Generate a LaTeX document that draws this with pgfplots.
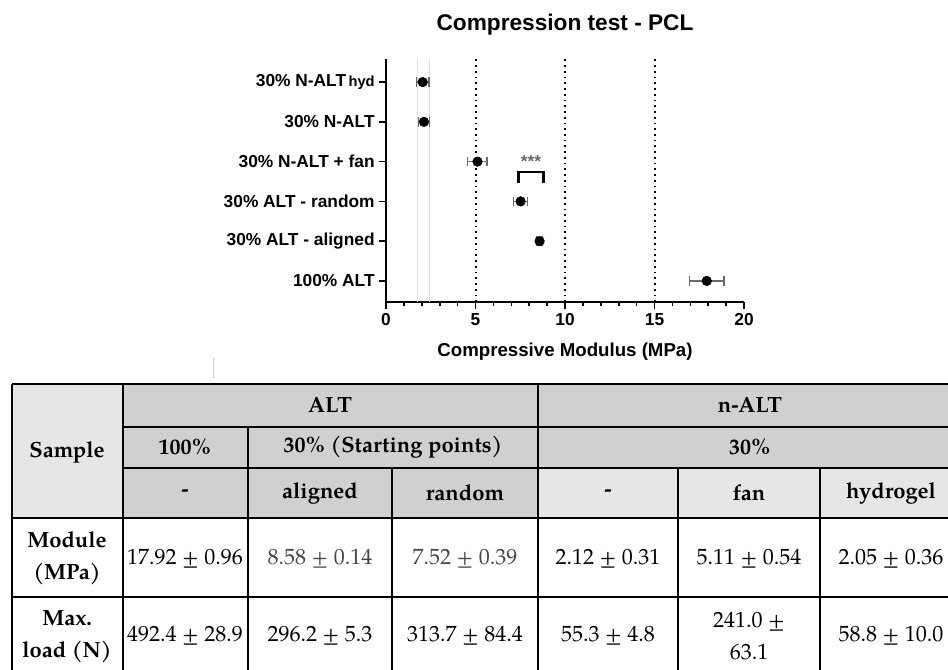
\documentclass[border=0pt]{standalone}
\usepackage{pgfplots}
\pgfplotsset{compat=1.18}
\usepackage{pgfplotstable}
\usepackage{fontspec}
\setmainfont{Liberation Sans}
\newfontfamily\pal{texgyrepagella}[Extension=.otf,UprightFont=*-regular,BoldFont=*-bold]
\definecolor{hdr}{RGB}{208,208,208}
\definecolor{hdrl}{RGB}{230,230,230}
\definecolor{ebar}{RGB}{105,105,105}
\definecolor{valg}{RGB}{70,70,70}

\pgfplotstableread{
y x e
6 2.05 0.36
5 2.12 0.31
4 5.11 0.54
3 7.52 0.39
2 8.58 0.14
1 17.92 0.96
}\modtab

\begin{document}
\begin{tikzpicture}[x=0.75pt,y=0.75pt]
\useasboundingbox (0,0) rectangle (948,669);
\clip (0,0) rectangle (948,669);
\fill[white] (0,0) rectangle (948,669);
\coordinate (axorig) at (386,{669-302});
% title
\node[font=\bfseries\fontsize{17}{20}\selectfont] at (565,{669-25}) {Compression test - PCL};
\begin{axis}[
  at={(axorig)}, anchor=south west,
  scale only axis, width=268.5pt, height=182.25pt,
  xmin=0, xmax=20, ymin=0.47, ymax=6.58,
  axis lines=left,
  axis line style={line width=1.8pt, -},
  xtick={0,5,10,15,20},
  minor xtick={1,2,3,4,6,7,8,9,11,12,13,14,16,17,18,19},
  ytick={1,2,3,4,5,6},
  yticklabels={100\% ALT, 30\% ALT - aligned, 30\% ALT - random, 30\% N-ALT + fan, 30\% N-ALT, 30\% N-ALT{\fontsize{11}{13}\selectfont\,hyd}},
  tick align=outside,
  major tick length=5pt, minor tick length=3pt,
  tick style={black, line width=1.2pt},
  tick label style={font=\bfseries\fontsize{13}{15}\selectfont},
  /pgf/number format/assume math mode=true,
  clip=false,
]
\draw[gray!25, line width=0.6pt] (axis cs:1.73,0.47) -- (axis cs:1.73,6.58);
\draw[gray!25, line width=0.6pt] (axis cs:2.40,0.47) -- (axis cs:2.40,6.58);
\draw[line width=1.5pt, dash pattern=on 1.3pt off 3pt] (axis cs:5,0.47) -- (axis cs:5,6.58);
\draw[line width=1.5pt, dash pattern=on 1.3pt off 3pt] (axis cs:10,0.47) -- (axis cs:10,6.58);
\draw[line width=1.5pt, dash pattern=on 1.3pt off 3pt] (axis cs:15,0.47) -- (axis cs:15,6.58);
\addplot[only marks, mark=*, mark size=3.6pt, black,
  error bars/.cd, x dir=both, x explicit,
  error mark=|,
  error bar style={color=ebar, line width=1pt},
  error mark options={color=ebar, line width=1pt, mark size=3.6pt}]
  table[x=x, y=y, x error=e] {\modtab};
\draw[line width=2pt] (axis cs:7.4,3.46) -- (axis cs:7.4,3.74) -- (axis cs:8.8,3.74) -- (axis cs:8.8,3.46);
\node[anchor=base, font=\bfseries\fontsize{13}{14}\selectfont, text=ebar, inner sep=0pt] at (axis cs:8.1,3.84) {***};
\end{axis}
\node[font=\bfseries\fontsize{14}{16}\selectfont] at (565,{669-352}) {Compressive Modulus (MPa)};
\draw[gray!40, line width=0.6pt] (213,{669-358}) -- (213,{669-378});
% table
\begin{scope}[font=\pal\fontsize{16.5}{24}\selectfont]
\fill[hdrl] (12,{669-384}) rectangle (123,{669-518});
\fill[hdr] (123,{669-384}) rectangle (962,{669-468});
\fill[hdr] (123,{669-468}) rectangle (538,{669-518});
\fill[hdrl] (538,{669-468}) rectangle (962,{669-518});
\begin{scope}[line width=1.6pt, black]
\draw (12,{669-384}) -- (962,{669-384});
\draw (123,{669-427}) -- (962,{669-427});
\draw (123,{669-468}) -- (962,{669-468});
\draw (12,{669-518}) -- (962,{669-518});
\draw (12,{669-597}) -- (962,{669-597});
\draw (12,{669-384}) -- (12,-10);
\draw (123,{669-384}) -- (123,-10);
\draw (538,{669-384}) -- (538,-10);
\draw (248,{669-427}) -- (248,-10);
\draw (392,{669-468}) -- (392,-10);
\draw (678,{669-468}) -- (678,-10);
\draw (820,{669-468}) -- (820,-10);
\end{scope}
\node[font=\pal\bfseries\fontsize{16.5}{24}\selectfont] at (67,{669-452}) {Sample};
\node[font=\pal\bfseries\fontsize{16.5}{24}\selectfont] at (330,{669-405}) {ALT};
\node[font=\pal\bfseries\fontsize{16.5}{24}\selectfont] at (750,{669-405}) {n-ALT};
\node[font=\pal\bfseries\fontsize{16.5}{24}\selectfont] at (185,{669-447}) {100\%};
\node[font=\pal\bfseries\fontsize{16.5}{24}\selectfont] at (393,{669-447}) {30\% (Starting points)};
\node[font=\pal\bfseries\fontsize{16.5}{24}\selectfont] at (750,{669-447}) {30\%};
\node[font=\pal\bfseries\fontsize{16.5}{24}\selectfont] at (185,{669-493}) {-};
\node[font=\pal\bfseries\fontsize{16.5}{24}\selectfont] at (320,{669-493}) {aligned};
\node[font=\pal\bfseries\fontsize{16.5}{24}\selectfont] at (465,{669-493}) {random};
\node[font=\pal\bfseries\fontsize{16.5}{24}\selectfont] at (608,{669-493}) {-};
\node[font=\pal\bfseries\fontsize{16.5}{24}\selectfont] at (749,{669-493}) {fan};
\node[font=\pal\bfseries\fontsize{16.5}{24}\selectfont] at (891,{669-493}) {hydrogel};
\node[font=\pal\bfseries\fontsize{16.5}{24}\selectfont, align=center] at (67,{669-558}) {Module\\(MPa)};
\node[font=\pal\bfseries\fontsize{16.5}{24}\selectfont, align=center] at (67,{669-637}) {Max.\\load (N)};
\node at (185,{669-559}) {17.92 ± 0.96};
\node[text=valg] at (320,{669-559}) {8.58 ± 0.14};
\node[text=valg] at (465,{669-559}) {7.52 ± 0.39};
\node at (608,{669-559}) {2.12 ± 0.31};
\node at (749,{669-559}) {5.11 ± 0.54};
\node at (891,{669-559}) {2.05 ± 0.36};
\node at (185,{669-636}) {492.4 ± 28.9};
\node at (320,{669-636}) {296.2 ± 5.3};
\node at (465,{669-636}) {313.7 ± 84.4};
\node at (608,{669-636}) {55.3 ± 4.8};
\node[align=center] at (749,{669-636}) {241.0 ±\\63.1};
\node at (891,{669-636}) {58.8 ± 10.0};
\end{scope}
\end{tikzpicture}
\end{document}
